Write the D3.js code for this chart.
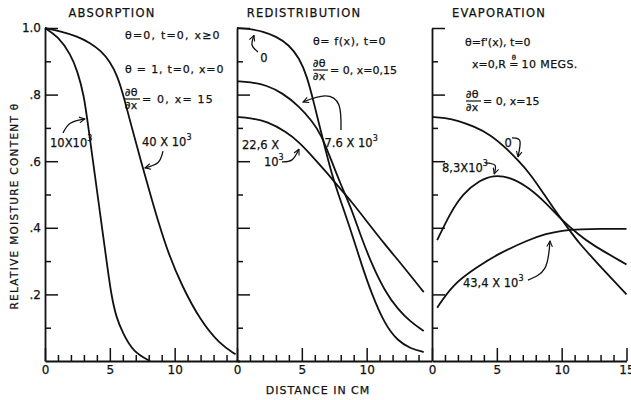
<!DOCTYPE html>
<html>
<head>
<meta charset="utf-8">
<script src="https://cdn.jsdelivr.net/npm/d3@7"></script>
<style>
  body { margin: 0; background: #fff; }
  svg { display: block; }
  text { font-family: "DejaVu Sans", sans-serif; fill: #111; stroke: #111; stroke-width: 0.25px; }
</style>
</head>
<body>
<svg id="chart" width="631" height="400"></svg>
<script>
// values (x in cm, theta relative)
const panelTitles = ['ABSORPTION', 'REDISTRIBUTION', 'EVAPORATION']
const yTickLabels = [0.2, 0.4, 0.6, 0.8, 1.0]
const yMinorTicks = [0.1, 0.3, 0.5, 0.7, 0.9]
const xTickLabels = [0, 5, 10]
const xTickLabelsLast = [0, 5, 10, 15]

// absorption
const abs10 = [[0, 1], [1, 0.975], [2, 0.92], [2.5, 0.87], [3, 0.8], [3.35, 0.7], [3.7, 0.6], [4.05, 0.5],
  [4.4, 0.4], [4.75, 0.3], [5.1, 0.2], [5.5, 0.13], [6, 0.084], [6.8, 0.027], [8.1, 0]]
const abs40 = [[0, 1], [1.2, 0.99], [2.5, 0.975], [3.5, 0.955], [4.3, 0.932], [5, 0.9], [5.6, 0.855],
  [6.1, 0.79], [6.6, 0.715], [7.4, 0.6], [8.2, 0.49], [8.8, 0.41], [9.5, 0.325], [10.5, 0.23],
  [12, 0.12], [13.5, 0.05], [14.7, 0.02]]

// redistribution
const red0 = [[0, 1], [1, 0.997], [2, 0.99], [3, 0.975], [4, 0.95], [4.8, 0.91], [5.4, 0.855], [5.9, 0.78],
  [6.5, 0.685], [7.3, 0.56], [8, 0.48], [8.8, 0.39], [9.6, 0.29], [10.4, 0.2], [11.4, 0.11],
  [12.4, 0.06], [13.4, 0.037], [14.4, 0.027]]
const red76 = [[0, 0.84], [1, 0.838], [2.3, 0.828], [3.5, 0.805], [4.8, 0.765], [5.8, 0.72], [6.5, 0.68],
  [7.3, 0.6], [8, 0.53], [8.8, 0.46], [9.5, 0.38], [10.4, 0.29], [11.4, 0.21], [12.4, 0.155],
  [13.4, 0.117], [14.4, 0.09]]
const red226 = [[0, 0.733], [1, 0.73], [2.3, 0.72], [3.8, 0.688], [4.8, 0.657], [5.8, 0.615], [6.9, 0.567],
  [7.9, 0.52], [8.8, 0.48], [10, 0.42], [11.4, 0.35], [12.7, 0.29], [14.4, 0.207]]

// evaporation
const eva0 = [[0, 0.733], [1, 0.73], [2, 0.722], [3.2, 0.705], [4.5, 0.68], [5.7, 0.64], [6.7, 0.6],
  [7.5, 0.565], [8.4, 0.515], [9.3, 0.462], [10.6, 0.393], [11.3, 0.356], [12.6, 0.3], [15, 0.2]]
const eva83 = [[0.4, 0.363], [1.4, 0.444], [2.4, 0.504], [3.7, 0.543], [4.7, 0.558], [6, 0.553],
  [7.5, 0.52], [8.8, 0.474], [10, 0.423], [11.3, 0.38], [12.3, 0.35], [15, 0.29]]
const eva434 = [[0.4, 0.16], [1.6, 0.23], [3.4, 0.28], [5, 0.32], [7.5, 0.365], [8.8, 0.382],
  [10, 0.392], [11.5, 0.396], [13, 0.397], [15, 0.397]]

const svg = d3.select('#chart')
const y = d3.scaleLinear([0, 1], [361, 28])
const panelLefts = [45, 237, 432]
const panelWidth = 194.5

svg.append('defs').append('marker')
  .attr('id', 'head')
  .attr('viewBox', '0 0 10 10')
  .attr('refX', 9).attr('refY', 5)
  .attr('markerWidth', 7).attr('markerHeight', 7)
  .attr('markerUnits', 'userSpaceOnUse')
  .attr('orient', 'auto')
  .append('path')
  .attr('d', 'M1,1 L9,5 L1,9')
  .attr('fill', 'none').attr('stroke', '#111').attr('stroke-width', 1.6)

const panels = [
  {
    curves: [abs10, abs40], xLabels: xTickLabels,
    labels: [
      { at: [0.39, 0.655], text: '10X10', sup: '3' },
      { at: [7.48, 0.658], text: '40 X 10', sup: '3' }
    ],
    arrows: [
      [[1.39, 0.685], [1.95, 0.714], [3.08, 0.727]],
      [[9.1, 0.63], [8.72, 0.596], [7.71, 0.58]]
    ]
  },
  {
    curves: [red0, red76, red226], xLabels: xTickLabels,
    labels: [
      { at: [1.8, 0.912], text: '0' },
      { at: [6.75, 0.655], text: '7.6 X 10', sup: '3' },
      { at: [0.39, 0.649], text: '22,6 X' },
      { at: [2.08, 0.598], text: '10', sup: '3' }
    ],
    arrows: [
      [[1.62, 0.928], [1.16, 0.949], [1.31, 0.978]],
      [[8.02, 0.694], [7.86, 0.769], [6.78, 0.796], [5.09, 0.778]],
      [[3.47, 0.598], [4.24, 0.604], [4.78, 0.636]]
    ]
  },
  {
    curves: [eva0, eva83, eva434], xLabels: xTickLabelsLast,
    labels: [
      { at: [5.6, 0.655], text: '0' },
      { at: [0.77, 0.58], text: '8,3X10', sup: '3' },
      { at: [2.39, 0.237], text: '43,4 X 10', sup: '3' }
    ],
    arrows: [
      [[6.17, 0.67], [6.78, 0.661], [6.63, 0.613]],
      [[4.1, 0.595], [4.85, 0.588], [4.8, 0.562]],
      [[7.4, 0.243], [8.71, 0.279], [9.1, 0.36]]
    ]
  }
]

const yFmt = (d) => (d === 1 ? '1.0' : d3.format('.1f')(d).replace(/^0/, ''))

panels.forEach((p, i) => {
  const left = panelLefts[i]
  const x = d3.scaleLinear([0, 15], [left, left + panelWidth])
  const g = svg.append('g')

  // y axis, major and minor ticks pointing inward
  g.append('g')
    .attr('transform', `translate(${left},0)`)
    .call(d3.axisLeft(y).tickValues(yTickLabels).tickSizeInner(-13).tickSizeOuter(0)
      .tickPadding(4).tickFormat(i === 0 ? yFmt : ''))
  g.append('g')
    .attr('transform', `translate(${left},0)`)
    .call(d3.axisLeft(y).tickValues(yMinorTicks).tickSizeInner(-6).tickSizeOuter(0).tickFormat(''))
    .call((a) => a.select('.domain').remove())

  // x axis
  const minors = d3.range(1, 15).filter((d) => d % 5)
  g.append('g')
    .attr('transform', 'translate(0,361)')
    .call(d3.axisBottom(x).tickValues(p.xLabels).tickSizeInner(-13).tickSizeOuter(0).tickPadding(4))
  g.append('g')
    .attr('transform', 'translate(0,361)')
    .call(d3.axisBottom(x).tickValues(minors).tickSizeInner(-6).tickSizeOuter(0).tickFormat(''))
    .call((a) => a.select('.domain').remove())

  g.selectAll('.domain').attr('stroke', '#111').attr('stroke-width', 1.8)
  g.selectAll('.tick line').attr('stroke', '#111').attr('stroke-width', 1.5)
  g.selectAll('.tick text').attr('font-size', 12).attr('fill', '#111')
    .style('font-family', '"DejaVu Sans", sans-serif')

  // title
  g.append('text')
    .attr('x', left + 67).attr('y', 17)
    .attr('text-anchor', 'middle')
    .attr('font-size', 11.5).attr('letter-spacing', 1.2)
    .text(panelTitles[i])

  // curves
  const line = d3.line().x((d) => x(d[0])).y((d) => y(d[1])).curve(d3.curveBasis)
  g.selectAll('path.curve').data(p.curves).enter().append('path')
    .attr('class', 'curve')
    .attr('d', line)
    .attr('fill', 'none').attr('stroke', '#111').attr('stroke-width', 1.8)

  // curve labels
  p.labels.forEach((l) => {
    const t = g.append('text')
      .attr('x', x(l.at[0])).attr('y', y(l.at[1]) + 4.5)
      .attr('font-size', 11.5)
      .text(l.text)
    if (l.sup) t.append('tspan').attr('dy', -6).attr('font-size', 8).text(l.sup)
  })

  // arrows
  const arrowLine = d3.line().x((d) => x(d[0])).y((d) => y(d[1])).curve(d3.curveNatural)
  g.selectAll('path.arrow').data(p.arrows).enter().append('path')
    .attr('class', 'arrow')
    .attr('d', arrowLine)
    .attr('fill', 'none').attr('stroke', '#111').attr('stroke-width', 1.3)
    .attr('marker-end', 'url(#head)')
})

// boundary conditions written in each panel
function note(xp, yp, str, size, spacing) {
  return svg.append('text').attr('x', xp).attr('y', yp)
    .attr('font-size', size || 11).attr('letter-spacing', spacing || 0).text(str)
}
function frac(xp, cy, rest, spacing) {
  note(xp, cy - 3, '∂θ')
  note(xp, cy + 10, '∂x')
  svg.append('line')
    .attr('x1', xp).attr('x2', xp + 15).attr('y1', cy).attr('y2', cy)
    .attr('stroke', '#111').attr('stroke-width', 1.2)
  note(xp + 17, cy + 4, rest, 11, spacing)
}

note(125, 39, 'θ=0,  t=0, x≥0', 11, 1.2)
note(125, 73, 'θ = 1,  t=0, x=0', 11, 0.8)
frac(125, 99, '= 0,  x= 15', 1.2)

note(313, 45, 'θ= f(x), t=0', 11, 0.6)
frac(313, 70, '= 0, x=0,15')

note(465, 46, "θ=f'(x), t=0")
// R with a small theta set over the equals sign, kept in one text
const rt = note(472, 68, 'x=0,R ')
rt.append('tspan').attr('dx', 2.4).attr('dy', -8).attr('font-size', 7).text('θ')
rt.append('tspan').attr('dx', -6.7).attr('dy', 8).text('=')
rt.append('tspan').attr('dx', 3).attr('letter-spacing', 0.4).text('10 MEGS.')
frac(466, 101, '= 0, x=15')

// axis titles
svg.append('text')
  .attr('transform', 'translate(18,206) rotate(-90)')
  .attr('text-anchor', 'middle')
  .attr('font-size', 10.5).attr('letter-spacing', 1.3)
  .text('RELATIVE MOISTURE CONTENT θ')

svg.append('text')
  .attr('x', 318).attr('y', 394)
  .attr('text-anchor', 'middle')
  .attr('font-size', 11).attr('letter-spacing', 1)
  .text('DISTANCE IN CM')
</script>
</body>
</html>
